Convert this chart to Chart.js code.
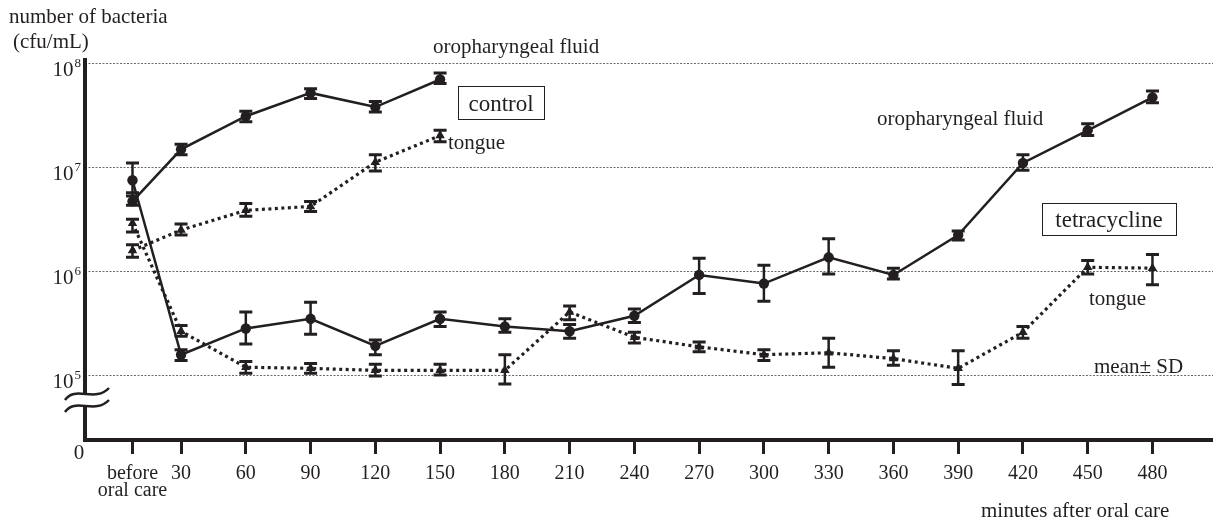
<!DOCTYPE html>
<html>
<head>
<meta charset="utf-8">
<script src="https://cdn.jsdelivr.net/npm/chart.js@4/dist/chart.umd.min.js"></script>
<style>
  html, body { margin: 0; padding: 0; background: #fff; }
  #wrap { width: 1213px; height: 524px; position: relative; }
</style>
</head>
<body>
<div id="wrap"><canvas id="c" width="1213" height="524"></canvas></div>
<script>
// ---- Data ----
// x in minutes; "before oral care" sits a bit ahead of 30
var MINUTES = [7.5, 30, 60, 90, 120, 150, 180, 210, 240, 270, 300, 330, 360, 390, 420, 450, 480];
var X_LABELS = [['before', 'oral care'], '30', '60', '90', '120', '150', '180', '210', '240',
                '270', '300', '330', '360', '390', '420', '450', '480'];
var Y_TICKS = [1e5, 1e6, 1e7, 1e8];
var Y_EXP = ['5', '6', '7', '8'];

// control (measured up to 150 min)
var CTRL_ORO    = [4.7e6, 1.49e7, 3.1e7, 5.2e7, 3.8e7, 7.0e7];
var CTRL_ORO_LO = [4.3e6, 1.32e7, 2.75e7, 4.6e7, 3.4e7, 6.4e7];
var CTRL_ORO_HI = [5.7e6, 1.67e7, 3.47e7, 5.7e7, 4.3e7, 8.1e7];

var CTRL_TONGUE    = [1.58e6, 2.49e6, 3.85e6, 4.2e6, 1.12e7, 2.02e7];
var CTRL_TONGUE_LO = [1.36e6, 2.23e6, 3.37e6, 3.76e6, 9.2e6, 1.76e7];
var CTRL_TONGUE_HI = [1.8e6, 2.84e6, 4.48e6, 4.68e6, 1.32e7, 2.27e7];

// tetracycline
var TET_ORO    = [7.5e6, 1.57e5, 2.81e5, 3.48e5, 1.91e5, 3.48e5, 2.93e5, 2.64e5, 3.72e5,
                  9.2e5, 7.6e5, 1.36e6, 9.2e5, 2.23e6, 1.1e7, 2.27e7, 4.71e7];
var TET_ORO_LO = [5.3e6, 1.38e5, 1.99e5, 2.47e5, 1.57e5, 2.93e5, 2.58e5, 2.26e5, 3.2e5,
                  6.1e5, 5.13e5, 9.37e5, 8.42e5, 2.0e6, 9.37e6, 2.02e7, 4.19e7];
var TET_ORO_HI = [1.1e7, 1.75e5, 4.05e5, 5.02e5, 2.17e5, 4.05e5, 3.48e5, 3.06e5, 4.33e5,
                  1.33e6, 1.14e6, 2.05e6, 1.07e6, 2.44e6, 1.32e7, 2.62e7, 5.43e7];

var TET_TONGUE    = [2.9e6, 2.64e5, 1.19e5, 1.16e5, 1.11e5, 1.11e5, 1.11e5, 4.05e5, 2.31e5,
                     1.87e5, 1.57e5, 1.64e5, 1.44e5, 1.16e5, 2.58e5, 1.09e6, 1.07e6];
var TET_TONGUE_LO = [2.38e6, 2.37e5, 1.04e5, 1.04e5, 9.8e4, 1.0e5, 8.2e4, 3.41e5, 2.03e5,
                     1.68e5, 1.38e5, 1.19e5, 1.24e5, 8.1e4, 2.26e5, 9.37e5, 7.4e5];
var TET_TONGUE_HI = [3.16e6, 3.0e5, 1.35e5, 1.29e5, 1.27e5, 1.27e5, 1.57e5, 4.61e5, 2.58e5,
                     2.08e5, 1.75e5, 2.26e5, 1.71e5, 1.71e5, 2.93e5, 1.27e6, 1.45e6];

// ---- Style ----
var INK = '#231f20';
var SERIF = '"Liberation Serif", "Times New Roman", serif';

// free text on the figure (pixel anchors, left/baseline)
var NOTES = [
  { t: 'oropharyngeal fluid', x: 433, y: 53, size: 21 },
  { t: 'tongue', x: 448, y: 149, size: 21 },
  { t: 'oropharyngeal fluid', x: 877, y: 125, size: 21 },
  { t: 'tongue', x: 1089, y: 305, size: 21 },
  { t: 'mean\u00b1 SD', x: 1094, y: 373, size: 21 },
  { t: 'minutes after oral care', x: 981, y: 517, size: 21 }
];
var BOXES = [
  { t: 'control', x: 458, y: 86, w: 86, h: 33 },
  { t: 'tetracycline', x: 1042, y: 203, w: 134, h: 32 }
];

function pts(vals) {
  return vals.map(function (v, i) { return { x: MINUTES[i], y: v }; });
}

function series(vals, lo, hi, style, dotted) {
  return {
    data: pts(vals), errLo: lo, errHi: hi,
    borderColor: INK, backgroundColor: INK,
    borderWidth: dotted ? 3.2 : 2.5,
    borderDash: dotted ? [3, 3.5] : [],
    borderCapStyle: 'butt',
    pointStyle: style, pointRadius: style === 'triangle' ? 5.5 : 5.2,
    pointBorderWidth: 0, pointBackgroundColor: INK,
    tension: 0, fill: false
  };
}

// dotted grid + custom y axis with break, labels and notes
var decor = {
  id: 'decor',
  beforeDatasetsDraw: function (chart) {
    var ctx = chart.ctx, a = chart.chartArea, ys = chart.scales.y;
    ctx.save();
    ctx.strokeStyle = '#6a6a6a'; ctx.lineWidth = 1; ctx.setLineDash([2, 1.5]);
    Y_TICKS.forEach(function (v) {
      var y = Math.round(ys.getPixelForValue(v)) + 0.5;
      ctx.beginPath(); ctx.moveTo(a.left, y); ctx.lineTo(chart.width, y); ctx.stroke();
    });
    ctx.restore();
  },
  afterDatasetsDraw: function (chart) {
    var ctx = chart.ctx, ys = chart.scales.y;
    ctx.save();
    ctx.strokeStyle = INK; ctx.setLineDash([]);
    chart.data.datasets.forEach(function (ds, di) {
      var meta = chart.getDatasetMeta(di);
      meta.data.forEach(function (p, i) {
        var y1 = ys.getPixelForValue(ds.errLo[i]), y2 = ys.getPixelForValue(ds.errHi[i]);
        ctx.lineWidth = 2.5;
        ctx.beginPath(); ctx.moveTo(p.x, y1); ctx.lineTo(p.x, y2); ctx.stroke();
        ctx.lineWidth = 3;
        ctx.beginPath();
        ctx.moveTo(p.x - 6.5, y1); ctx.lineTo(p.x + 6.5, y1);
        ctx.moveTo(p.x - 6.5, y2); ctx.lineTo(p.x + 6.5, y2);
        ctx.stroke();
      });
    });
    ctx.restore();
  },
  afterDraw: function (chart) {
    var ctx = chart.ctx, a = chart.chartArea, ys = chart.scales.y;
    ctx.save();
    ctx.setLineDash([]);
    // y axis line, x axis line carried to the right edge
    ctx.strokeStyle = INK; ctx.lineWidth = 4;
    ctx.beginPath(); ctx.moveTo(a.left, a.top); ctx.lineTo(a.left, a.bottom + 2); ctx.stroke();
    ctx.beginPath(); ctx.moveTo(a.right - 2, a.bottom); ctx.lineTo(chart.width, a.bottom); ctx.stroke();

    // axis break
    var bx = a.left, by = a.bottom - 40;
    function wave(y0) {
      ctx.moveTo(bx - 20, y0 + 6);
      ctx.bezierCurveTo(bx - 10, y0 - 9, bx + 10, y0 + 9, bx + 24, y0 - 6);
    }
    ctx.fillStyle = '#fff';
    ctx.beginPath();
    wave(by - 6);
    ctx.lineTo(bx + 24, by + 6);
    ctx.bezierCurveTo(bx + 10, by + 15, bx - 10, by - 3, bx - 20, by + 12);
    ctx.closePath(); ctx.fill();
    ctx.lineWidth = 2.5;
    ctx.beginPath(); wave(by - 6); ctx.stroke();
    ctx.beginPath(); wave(by + 6); ctx.stroke();

    // y tick labels 10^n
    ctx.fillStyle = INK; ctx.textAlign = 'right'; ctx.textBaseline = 'alphabetic';
    Y_TICKS.forEach(function (v, i) {
      var y = ys.getPixelForValue(v);
      ctx.font = '13px ' + SERIF;
      var ew = ctx.measureText(Y_EXP[i]).width;
      ctx.fillText(Y_EXP[i], a.left - 4, y + 4);
      ctx.font = '21px ' + SERIF;
      ctx.fillText('10', a.left - 5 - ew, y + 13);
    });
    ctx.font = '21px ' + SERIF;
    ctx.textAlign = 'center';
    ctx.fillText('0', a.left - 6, a.bottom + 19);

    // axis title
    ctx.textAlign = 'left';
    ctx.fillText('number of bacteria', 9, 23);
    ctx.fillText('(cfu/mL)', 13, 48);

    NOTES.forEach(function (n) {
      ctx.font = n.size + 'px ' + SERIF;
      ctx.fillText(n.t, n.x, n.y);
    });

    ctx.lineWidth = 1;
    BOXES.forEach(function (b) {
      ctx.strokeRect(b.x + 0.5, b.y + 0.5, b.w, b.h);
      ctx.font = '23px ' + SERIF;
      ctx.textAlign = 'center';
      ctx.fillText(b.t, b.x + b.w / 2, b.y + b.h / 2 + 8);
    });
    ctx.restore();
  }
};

new Chart(document.getElementById('c'), {
  type: 'line',
  data: {
    datasets: [
      series(CTRL_ORO, CTRL_ORO_LO, CTRL_ORO_HI, 'circle', false),
      series(CTRL_TONGUE, CTRL_TONGUE_LO, CTRL_TONGUE_HI, 'triangle', true),
      series(TET_ORO, TET_ORO_LO, TET_ORO_HI, 'circle', false),
      series(TET_TONGUE, TET_TONGUE_LO, TET_TONGUE_HI, 'triangle', true)
    ]
  },
  options: {
    responsive: false, animation: false, devicePixelRatio: 1,
    layout: { padding: { left: 85, top: 58, right: 0, bottom: 0 } },
    plugins: { legend: { display: false }, tooltip: { enabled: false } },
    scales: {
      x: {
        type: 'linear', min: -14.5, max: 505.5,
        afterBuildTicks: function (s) { s.ticks = MINUTES.map(function (m) { return { value: m }; }); },
        afterFit: function (s) { s.height = 84; },
        border: { display: true, color: INK, width: 4 },
        grid: { drawOnChartArea: false, drawTicks: true, tickLength: 14, tickWidth: 3, tickColor: INK, color: INK },
        ticks: {
          autoSkip: false, maxRotation: 0, padding: 11, color: INK,
          font: { family: SERIF, size: 20, lineHeight: 0.85 },
          callback: function (v, i) { return X_LABELS[i]; }
        }
      },
      y: {
        type: 'logarithmic', display: false,
        min: Math.pow(10, 4.375), max: Math.pow(10, 8.052)
      }
    }
  },
  plugins: [decor]
});
</script>
</body>
</html>
